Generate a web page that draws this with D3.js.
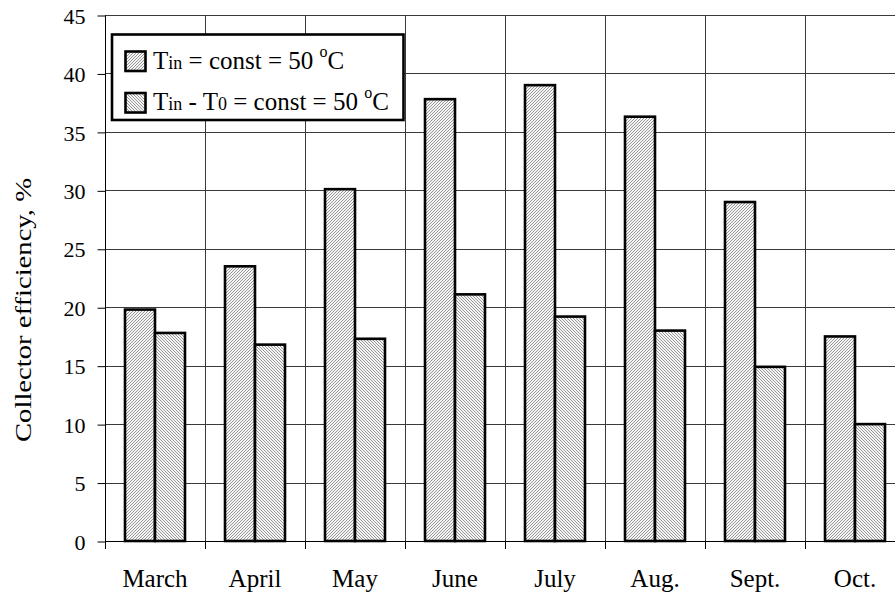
<!DOCTYPE html>
<html><head><meta charset="utf-8">
<script src="https://cdn.jsdelivr.net/npm/d3@7"></script>
<style>body{margin:0;background:#fff}svg{display:block}
text{font-family:"Liberation Serif","Times New Roman",serif}</style>
</head><body>
<svg id="c" width="895" height="594"></svg>
<script>
const categories = ["March","April","May","June","July","Aug.","Sept.","Oct."];
const seriesA = [19.8,23.5,30.1,37.8,39.0,36.3,29.0,17.5]; // Tin = const = 50 °C
const seriesB = [17.8,16.8,17.3,21.1,19.2,18.0,14.9,10.0]; // Tin - T0 = const = 50 °C
const yTicks = [0,5,10,15,20,25,30,35,40,45];

const svg = d3.select("#c");
const mLeft = 105, mTop = 15, mBottom = 541, mRight = 905;
const x = d3.scaleBand().domain(categories).range([mLeft, mRight]).paddingInner(0).paddingOuter(0);
const y = d3.scaleLinear().domain([0,45]).range([mBottom, mTop]);
const inner = d3.scaleBand().domain(["A","B"]).range([0, 60]);
const font = "Liberation Serif, Times New Roman, serif";

const defs = svg.append("defs");
function pat(id, dir){
  const p = defs.append("pattern").attr("id",id).attr("patternUnits","userSpaceOnUse")
    .attr("width",3).attr("height",3);
  p.append("rect").attr("width",3).attr("height",3).attr("fill","#f4f4f4");
  if(dir>0){
    p.append("path").attr("d","M-1,1 L1,-1 M0,3 L3,0 M2,4 L4,2").attr("stroke","#7a7a7a").attr("stroke-width",0.75);
  } else {
    p.append("path").attr("d","M-1,2 L1,4 M0,0 L3,3 M2,-1 L4,1").attr("stroke","#7a7a7a").attr("stroke-width",0.75);
  }
}
pat("hA",1); pat("hB",-1);

// horizontal gridlines
svg.append("g").selectAll("line").data(yTicks.filter(d=>d>0)).join("line")
  .attr("x1",mLeft).attr("x2",895).attr("y1",d=>Math.round(y(d))+0.5).attr("y2",d=>Math.round(y(d))+0.5)
  .attr("stroke","#3a3a3a").attr("stroke-width",1);
// vertical gridlines
svg.append("g").selectAll("line").data(categories.slice(1)).join("line")
  .attr("x1",d=>Math.round(x(d))+0.5).attr("x2",d=>Math.round(x(d))+0.5).attr("y1",mTop).attr("y2",mBottom)
  .attr("stroke","#3a3a3a").attr("stroke-width",1);

// y axis
const yAxis = d3.axisLeft(y).tickValues(yTicks).tickSize(8).tickPadding(12).tickFormat(d3.format("d"));
const gy = svg.append("g").attr("transform",`translate(${mLeft+0.5},0.5)`).call(yAxis)
  .attr("font-family",font).attr("font-size",22);
gy.select(".domain").attr("d",`M0,${mTop}V${mBottom}`).attr("stroke","#000");
gy.selectAll(".tick line").attr("stroke","#000");
gy.selectAll("text").attr("fill","#000").attr("dy","0.35em");

// x axis
const gx = svg.append("g").attr("transform",`translate(0,${mBottom+0.5})`)
  .call(d3.axisBottom(x).tickSize(0).tickPadding(28))
  .attr("font-family",font).attr("font-size",25);
gx.select(".domain").attr("d",`M${mLeft},0H895`).attr("stroke","#000");
gx.selectAll("text").attr("fill","#000");
// boundary ticks
svg.append("g").selectAll("line").data(categories).join("line")
  .attr("x1",d=>Math.round(x(d))+0.5).attr("x2",d=>Math.round(x(d))+0.5)
  .attr("y1",mBottom).attr("y2",mBottom+8).attr("stroke","#000");

// bars
const g = svg.append("g");
const data = categories.map((c,i)=>({c, A:seriesA[i], B:seriesB[i]}));
[["A","hA"],["B","hB"]].forEach(([k,pid])=>{
  g.selectAll(".bar"+k).data(data).join("rect").attr("class","bar"+k)
    .attr("x",d=>x(d.c)+x.bandwidth()/2-30+inner(k))
    .attr("width",inner.bandwidth())
    .attr("y",d=>y(d[k])).attr("height",d=>y(0)-y(d[k]))
    .attr("fill",`url(#${pid})`).attr("stroke","#000").attr("stroke-width",2.6);
});

// y title
svg.append("text").attr("transform","translate(31,310) rotate(-90)")
  .attr("text-anchor","middle").attr("font-size",23).attr("fill","#000")
  .attr("textLength",264).attr("lengthAdjust","spacingAndGlyphs")
  .text("Collector efficiency, %");

// legend
const lg = svg.append("g");
lg.append("rect").attr("x",112).attr("y",34.5).attr("width",291.5).attr("height",85.5)
  .attr("fill","#fff").attr("stroke","#000").attr("stroke-width",2.6);
const items = [
  {pid:"hA", parts:[["T",""],["in","sub"],[" = const = 50 ",""],["o","sup"],["C",""]]},
  {pid:"hB", parts:[["T",""],["in","sub"],[" - T",""],["0","sub"],[" = const = 50 ",""],["o","sup"],["C",""]]}
];
items.forEach((it,i)=>{
  const base = 68.5 + i*41.5;
  lg.append("rect").attr("x",125.5).attr("y",base-17).attr("width",20).attr("height",19.5)
    .attr("fill",`url(#${it.pid})`).attr("stroke","#000").attr("stroke-width",2.6);
  const t = lg.append("text").attr("x",153).attr("y",base).attr("font-size",25).attr("fill","#000");
  it.parts.forEach(([s,type])=>{
    const ts = t.append("tspan").text(s);
    if(type==="sub") ts.attr("font-size",18);
    if(type==="sup") ts.attr("font-size",16).attr("baseline-shift","75%");
  });
});
</script>
</body></html>
